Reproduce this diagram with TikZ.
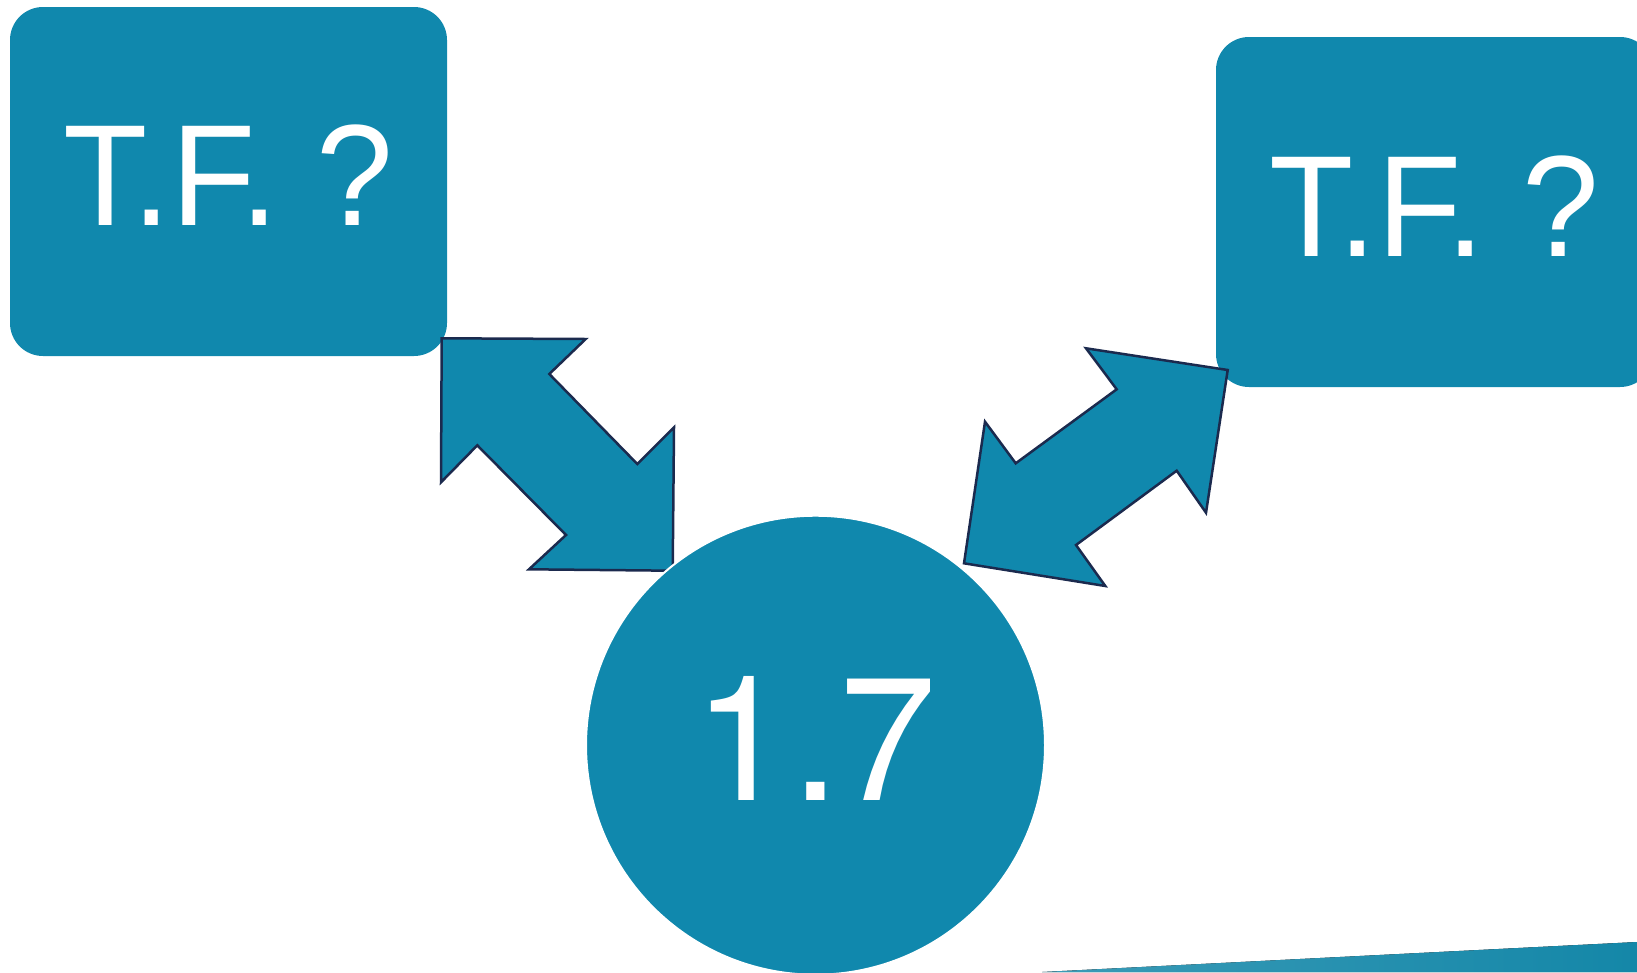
\documentclass[tikz,border=0pt]{standalone}
\usepackage{fontspec}
\usepackage{graphicx}
\setmainfont{Liberation Sans}
\newfontfamily\heros{TeX Gyre Heros}
\definecolor{tealblue}{HTML}{1088AD}
\definecolor{navyline}{HTML}{1B2A4E}
\definecolor{wedgelight}{HTML}{3A9BB7}
\definecolor{wedgedark}{HTML}{1487A8}
\newcommand{\tallish}[1]{\scalebox{1}[1.045]{#1}}
\tikzset{
  tfbox/.style={fill=tealblue, rounded corners=33pt, minimum width=437pt,
    minimum height=349pt, inner sep=0pt, text=white, text depth=12pt,
    font=\fontsize{138}{160}\selectfont},
  bigcirc/.style={circle, fill=tealblue, draw=white, line width=2pt,
    minimum size=459pt, inner sep=0pt, text=white, text depth=14pt,
    font=\heros\fontsize{175}{200}\selectfont},
  blockarrow/.style={fill=tealblue, draw=navyline, line width=2.5pt, line join=miter}
}
\begin{document}
\begin{tikzpicture}[x=1pt,y=-1pt]
\useasboundingbox (0,0) rectangle (1637,972);
\begin{scope}
\clip (0,0) rectangle (1637,972);
% boxes
\node[tfbox] (lbox) at (228.5,181.5) {\tallish{T.F. ?}};
\node[tfbox, minimum height=350pt] (rbox) at (1434.5,212) {\tallish{T.F. ?}};
% left double arrow
\draw[blockarrow] (441.7,338.3) -- (585.7,339) -- (549.3,374) -- (637.3,464)
  -- (674,427.3) -- (672.7,570.7) -- (529,569.3) -- (566,535)
  -- (477.3,445.3) -- (441,482.3) -- cycle;
% right double arrow
\draw[blockarrow] (1086,348.3) -- (1227.7,370) -- (1206,512.7) -- (1176.7,470.7)
  -- (1076,545) -- (1105.3,586) -- (964,563.3) -- (985,421.7)
  -- (1015.7,463.3) -- (1116.7,389.3) -- cycle;
% circle
\node[bigcirc] (circ) at (815.5,745.2) {1.7};
% bottom-right wedge
\fill[left color=wedgelight, right color=wedgedark] (1042,972) -- (1637,942) -- (1637,972) -- cycle;
\end{scope}
\end{tikzpicture}
\end{document}
